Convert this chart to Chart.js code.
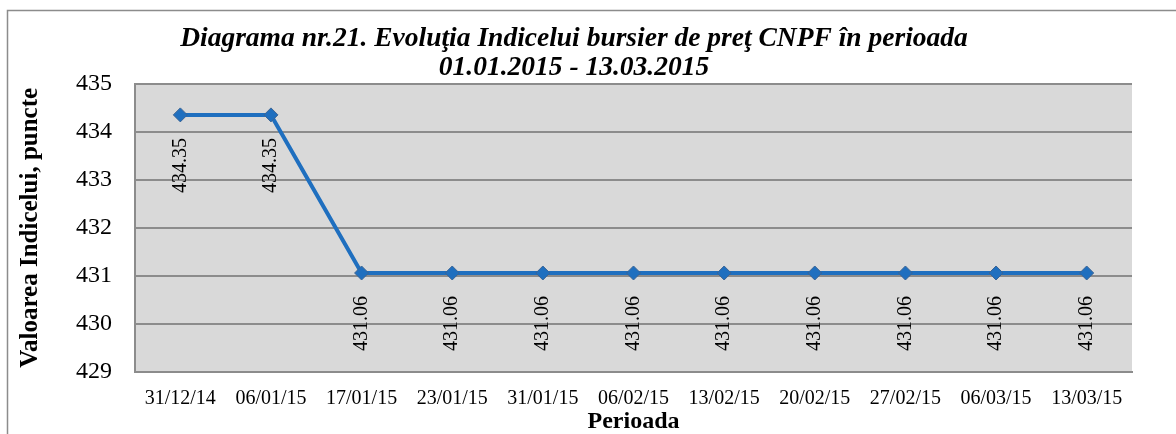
<!DOCTYPE html>
<html lang="ro">
<head>
    <meta charset="UTF-8">
    <title>Diagrama nr.21</title>
    <script src="https://cdn.jsdelivr.net/npm/chart.js"></script>
    <style>
        body {
            margin: 0;
            background: white;
        }
        #wrap {
            width: 1176px;
            height: 434px;
            position: relative;
        }
    </style>
</head>
<body>
    <div id="wrap">
        <canvas id="cnpfChart" width="1176" height="434"></canvas>
    </div>
    <script>
        const perioade = ['31/12/14', '06/01/15', '17/01/15', '23/01/15', '31/01/15', '06/02/15',
                          '13/02/15', '20/02/15', '27/02/15', '06/03/15', '13/03/15'];
        const valori = [434.35, 434.35, 431.06, 431.06, 431.06, 431.06, 431.06, 431.06, 431.06, 431.06, 431.06];
        const titlu = ['Diagrama nr.21. Evoluţia Indicelui bursier de preţ CNPF în perioada', '01.01.2015 - 13.03.2015'];

        const serif = '"Liberation Serif", "Times New Roman", serif';

        // fundal gri al zonei de grafic + chenarul exterior
        const fundal = {
            id: 'fundal',
            beforeDraw(chart) {
                const c = chart.ctx;
                const a = chart.chartArea;
                c.save();
                c.strokeStyle = '#8c8c8c';
                c.lineWidth = 1.5;
                c.beginPath();
                c.moveTo(7.5, 434);
                c.lineTo(7.5, 10.5);
                c.lineTo(1176, 10.5);
                c.stroke();
                c.fillStyle = '#d9d9d9';
                c.fillRect(a.left, a.top, a.right - a.left, a.bottom - a.top);
                c.restore();
            }
        };

        // etichete rotite sub fiecare punct
        const etichete = {
            id: 'etichete',
            afterDatasetsDraw(chart) {
                const c = chart.ctx;
                const meta = chart.getDatasetMeta(0);
                c.save();
                c.font = '20px ' + serif;
                c.fillStyle = '#000';
                c.textAlign = 'right';
                c.textBaseline = 'middle';
                meta.data.forEach((pt, i) => {
                    c.save();
                    c.translate(pt.x, pt.y + 23);
                    c.rotate(-Math.PI / 2);
                    c.fillText(valori[i].toFixed(2), 0, 0);
                    c.restore();
                });
                c.restore();
            }
        };

        const ctx = document.getElementById('cnpfChart').getContext('2d');
        new Chart(ctx, {
            type: 'line',
            data: {
                labels: perioade,
                datasets: [{
                    data: valori,
                    borderColor: '#1f6fbf',
                    borderWidth: 4,
                    pointStyle: 'rectRot',
                    pointRadius: 7,
                    pointBackgroundColor: '#1f6fbf',
                    pointBorderColor: '#3b6494',
                    pointBorderWidth: 1,
                    tension: 0,
                    fill: false
                }]
            },
            options: {
                responsive: false,
                animation: false,
                layout: { padding: { left: 16, right: 44, top: 23, bottom: 0 } },
                scales: {
                    x: {
                        offset: true,
                        afterFit(scale) { scale.height = 62; },
                        grid: { display: false, drawTicks: false },
                        border: { color: '#8c8c8c', width: 2 },
                        ticks: { color: '#000', font: { family: serif, size: 20, lineHeight: 1.2 }, maxRotation: 0, padding: 15 },
                        title: {
                            display: true,
                            text: 'Perioada',
                            color: '#000',
                            font: { family: serif, size: 24, weight: 'bold', lineHeight: 1 },
                            padding: { top: 0, bottom: 0 }
                        }
                    },
                    y: {
                        min: 429,
                        max: 435,
                        ticks: { stepSize: 1, color: '#000', font: { family: serif, size: 24 }, padding: 23 },
                        grid: { color: '#8c8c8c', lineWidth: 2, drawTicks: false },
                        border: { color: '#8c8c8c', width: 2 },
                        title: {
                            display: true,
                            text: 'Valoarea Indicelui, puncte',
                            color: '#000',
                            font: { family: serif, size: 25, weight: 'bold', lineHeight: 1.2 },
                            padding: { top: 0, bottom: 7 }
                        }
                    }
                },
                plugins: {
                    legend: { display: false },
                    tooltip: { enabled: false },
                    title: {
                        display: true,
                        text: titlu,
                        color: '#000',
                        font: { family: serif, size: 27.5, weight: 'bold', style: 'italic', lineHeight: 1.03 },
                        padding: { top: 2, bottom: 2 }
                    }
                }
            },
            plugins: [fundal, etichete]
        });
    </script>
</body>
</html>
